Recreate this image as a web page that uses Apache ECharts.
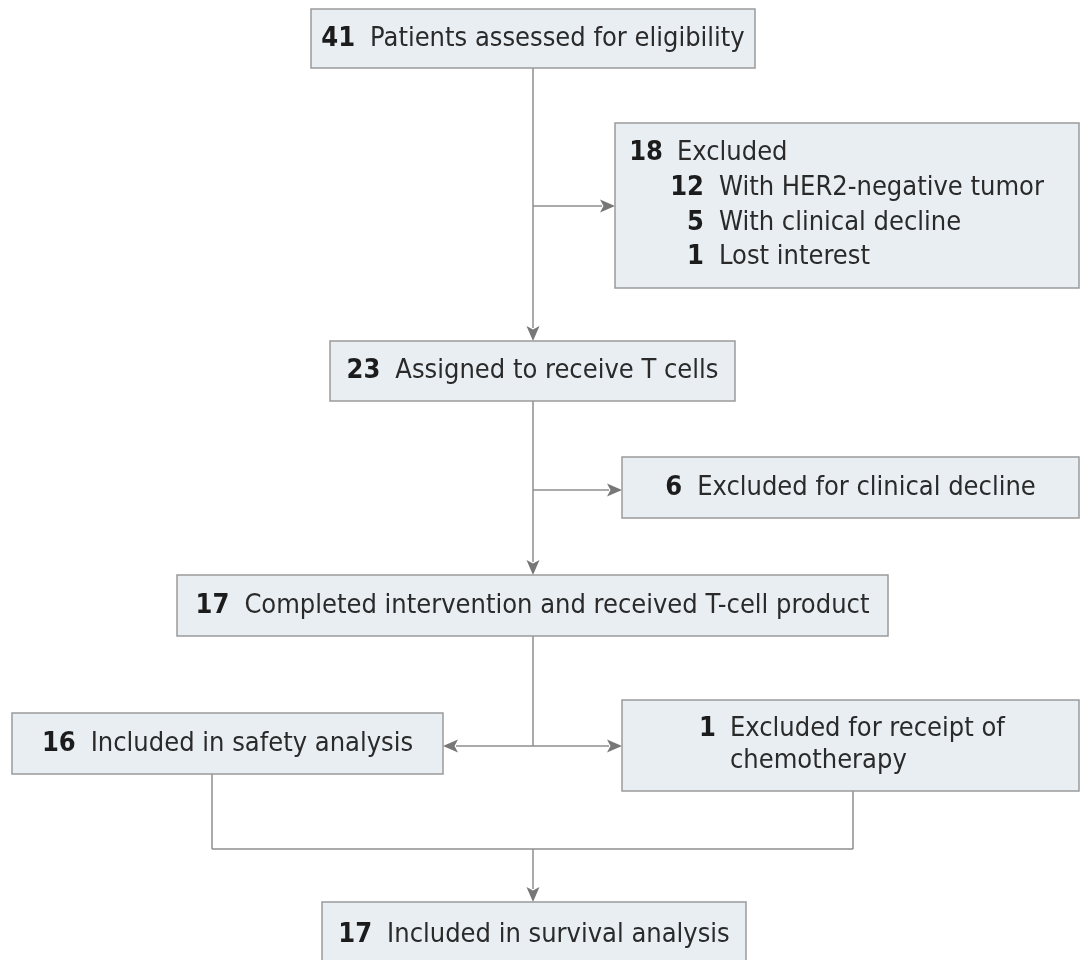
<!DOCTYPE html>
<html><head><meta charset="utf-8">
<script src="https://cdn.jsdelivr.net/npm/echarts@6/dist/echarts.min.js"></script>
<style>html,body{margin:0;padding:0;background:#fff}#c{width:1081px;height:960px}</style>
</head><body><div id="c"></div>
<script>
// ---- data ----
const mainCounts = [41, 23, 17, 17];
const mainLabels = ['Patients assessed for eligibility', 'Assigned to receive T cells', 'Completed intervention and received T-cell product', 'Included in survival analysis'];
const exclCounts = [18, 6, 1];
const exclLabels = ['Excluded', 'Excluded for clinical decline', 'Excluded for receipt of chemotherapy'];
const reasonCounts = [12, 5, 1];
const reasonLabels = ['With HER2-negative tumor', 'With clinical decline', 'Lost interest'];
const safetyCounts = [16];
const safetyLabels = ['Included in safety analysis'];

// ---- layout (pixel space of the hidden axes) ----
const boxes = [
  { kind: 'main', i: 0, r: [311, 9, 755, 68] },
  { kind: 'excl', i: 0, r: [615, 123, 1079, 288] },
  { kind: 'main', i: 1, r: [330, 341, 735, 401] },
  { kind: 'excl', i: 1, r: [622, 457, 1079, 518] },
  { kind: 'main', i: 2, r: [177, 575, 888, 636] },
  { kind: 'safety', i: 0, r: [12, 713, 443, 774] },
  { kind: 'excl', i: 2, r: [622, 700, 1079, 791] },
  { kind: 'main', i: 3, r: [322, 902, 746, 968] }
];
const links = [
  [533, 68, 533, 341, 1],
  [533, 206, 615, 206, 1],
  [533, 401, 533, 575, 1],
  [533, 490, 622, 490, 1],
  [533, 636, 533, 746, 0],
  [533, 746, 443, 746, 1],
  [533, 746, 622, 746, 1],
  [212, 774, 212, 849, 0],
  [853, 791, 853, 849, 0],
  [212, 849, 853, 849, 0],
  [533, 849, 533, 902, 1]
];

const FF = "'Liberation Sans Narrow', 'DejaVu Sans Condensed', 'Open Sans', sans-serif";
const FS = 27;
const numStyle = { fontFamily: FF, fontSize: FS, fontWeight: 'bold', fill: '#1c1c1c' };
const txtStyle = { fontFamily: FF, fontSize: FS, fill: '#2a2a2a' };

function txt(x, y, s, align, bold) {
  return { type: 'text', style: Object.assign({ text: s, x: x, y: y, align: align, verticalAlign: 'middle' }, bold ? numStyle : txtStyle) };
}
function centered(x, y, n, s) {
  return { type: 'text', style: { text: '{n|' + n + '}{t|' + s + '}', x: x, y: y, align: 'center', verticalAlign: 'middle',
    rich: { n: Object.assign({ padding: [0, 15, 0, 0] }, numStyle), t: txtStyle } } };
}

function renderBox(params, api) {
  const b = boxes[api.value(0)];
  const p0 = api.coord([b.r[0], b.r[1]]);
  const p1 = api.coord([b.r[2], b.r[3]]);
  const ch = [{ type: 'rect', shape: { x: p0[0], y: p0[1], width: p1[0] - p0[0], height: p1[1] - p0[1] },
    style: { fill: '#e8eef2', stroke: '#9a9a9a', lineWidth: 1.5 } }];
  const cx = (p0[0] + p1[0]) / 2, cy = (p0[1] + p1[1]) / 2;
  const P = (x, y) => api.coord([x, y]);
  if (b.kind === 'main') ch.push(centered(cx, cy, mainCounts[b.i], mainLabels[b.i]));
  else if (b.kind === 'safety') ch.push(centered(cx, cy, safetyCounts[b.i], safetyLabels[b.i]));
  else if (b.i === 1) ch.push(centered(cx, cy, exclCounts[1], exclLabels[1]));
  else if (b.i === 0) {
    let q = P(663, 153);
    ch.push(txt(q[0], q[1], String(exclCounts[0]), 'right', true));
    q = P(677, 153);
    ch.push(txt(q[0], q[1], exclLabels[0], 'left', false));
    reasonCounts.forEach((c, k) => {
      const y = 188 + k * 34.5;
      let a = P(704, y);
      ch.push(txt(a[0], a[1], String(c), 'right', true));
      a = P(719, y);
      ch.push(txt(a[0], a[1], reasonLabels[k], 'left', false));
    });
  } else {
    const words = exclLabels[2];
    const cut = words.indexOf('chemotherapy');
    let q = P(716, 729);
    ch.push(txt(q[0], q[1], String(exclCounts[2]), 'right', true));
    q = P(730, 729);
    ch.push(txt(q[0], q[1], words.slice(0, cut).trim(), 'left', false));
    q = P(730, 761);
    ch.push(txt(q[0], q[1], words.slice(cut), 'left', false));
  }
  return { type: 'group', children: ch };
}

function renderLink(params, api) {
  const a = api.coord([api.value(0), api.value(1)]);
  const b = api.coord([api.value(2), api.value(3)]);
  const ch = [];
  const arrow = api.value(4) === 1;
  const L = 15, W = 6.5;
  const dx = b[0] - a[0], dy = b[1] - a[1];
  const len = Math.sqrt(dx * dx + dy * dy);
  const ux = dx / len, uy = dy / len;
  const end = arrow ? [b[0] - ux * (L - 2), b[1] - uy * (L - 2)] : b;
  ch.push({ type: 'line', shape: { x1: a[0], y1: a[1], x2: end[0], y2: end[1] }, style: { stroke: '#8e8e8e', lineWidth: 1.5 } });
  if (arrow) {
    const bx = b[0] - ux * L, by = b[1] - uy * L;
    ch.push({ type: 'polygon', shape: { points: [[b[0], b[1]], [bx - uy * W, by + ux * W], [bx + ux * 3.5, by + uy * 3.5], [bx + uy * W, by - ux * W]] },
      style: { fill: '#777777' } });
  }
  return { type: 'group', children: ch };
}

const chart = echarts.init(document.getElementById('c'), null, { renderer: 'canvas' });
chart.setOption({
  animation: false,
  backgroundColor: '#ffffff',
  grid: { left: 0, right: 0, top: 0, bottom: 0 },
  xAxis: { type: 'value', min: 0, max: 1081, show: false },
  yAxis: { type: 'value', min: 0, max: 960, inverse: true, show: false },
  series: [
    { type: 'custom', renderItem: renderLink, data: links, silent: true, clip: false },
    { type: 'custom', renderItem: renderBox, data: boxes.map((b, k) => [k]), silent: true, clip: false }
  ]
});
</script></body></html>
